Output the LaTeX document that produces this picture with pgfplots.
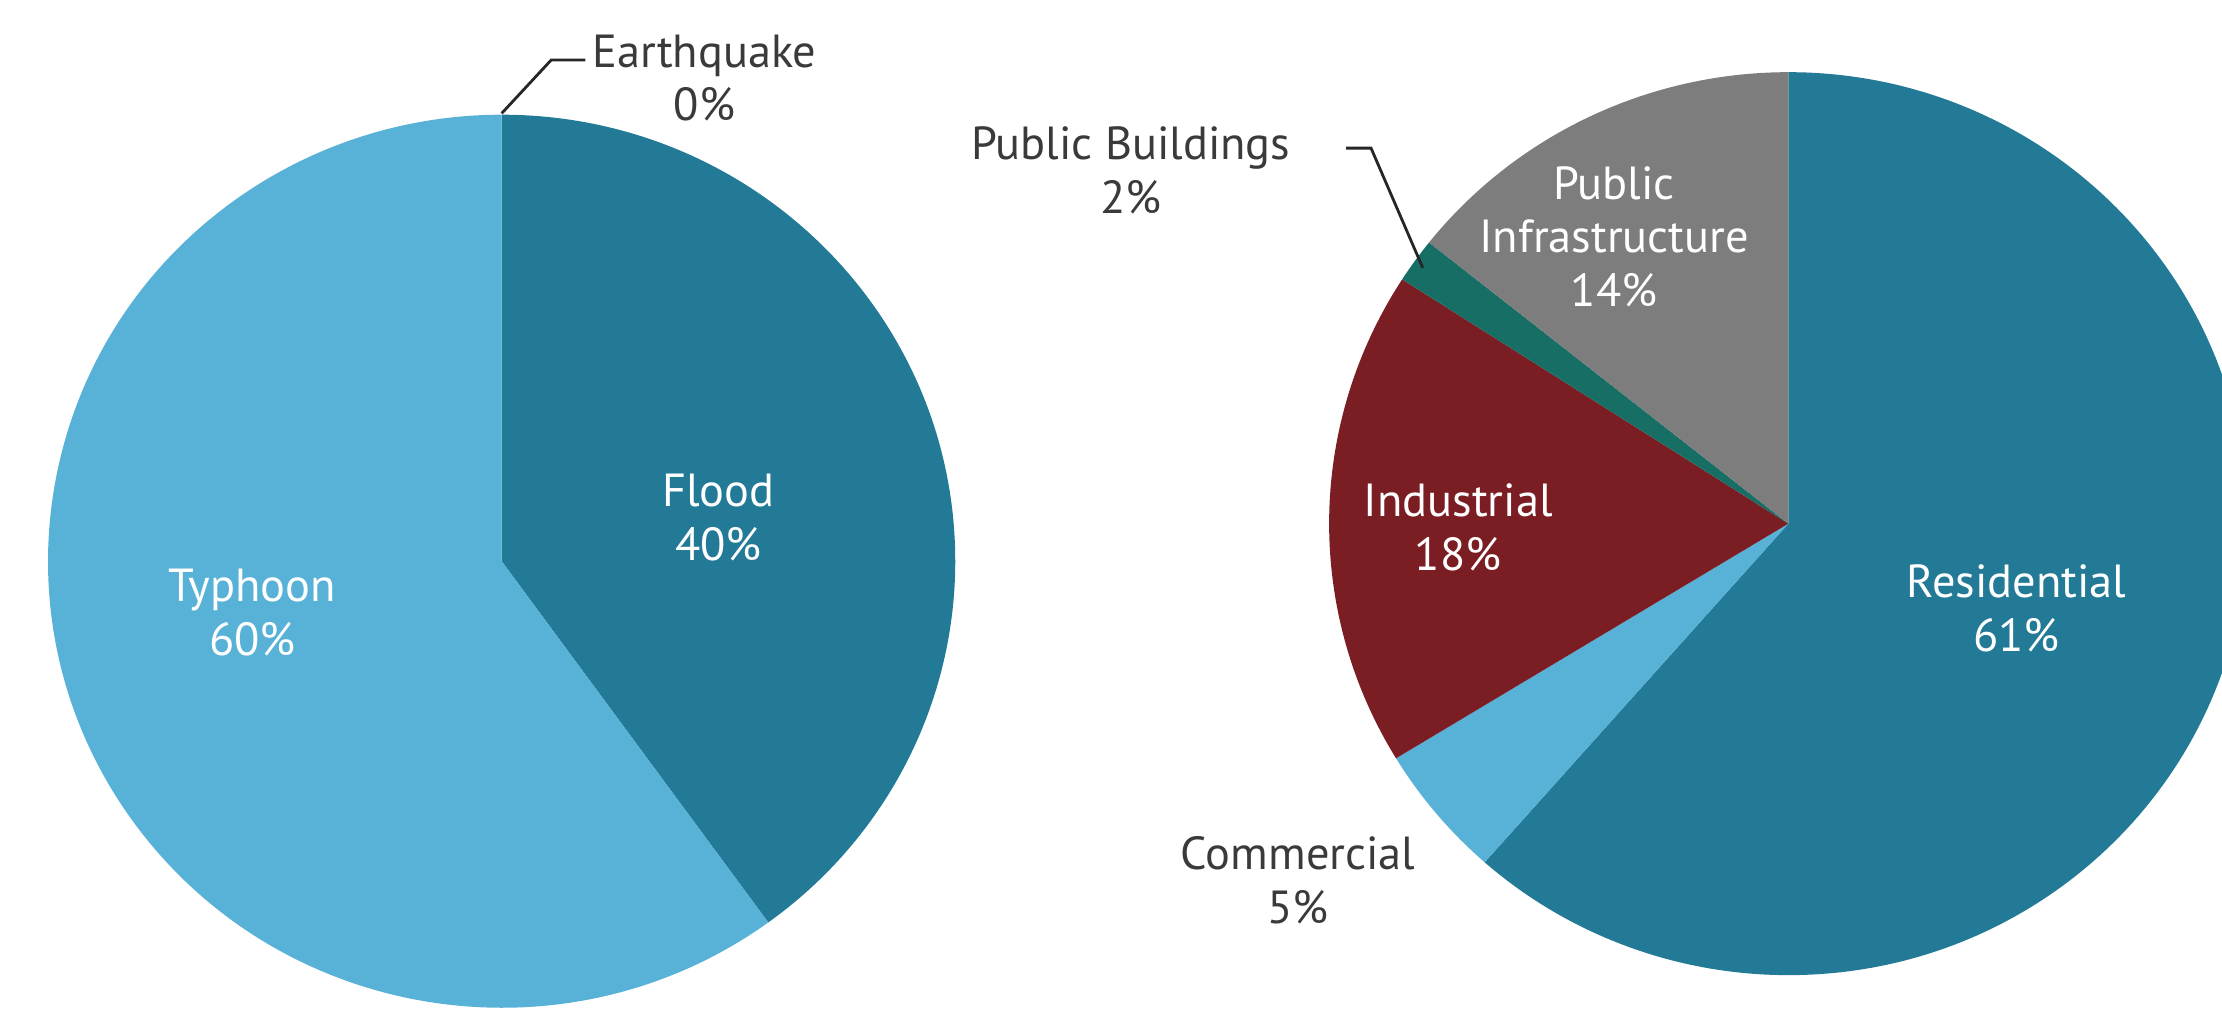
\documentclass[border=0pt]{standalone}
\usepackage{pgfplots}
\pgfplotsset{compat=1.18}
\usepackage{fontspec}
\setmainfont{PT Sans}
\definecolor{cdark}{HTML}{237A96}
\definecolor{clight}{HTML}{58B2D8}
\definecolor{cred}{HTML}{7A1E24}
\definecolor{cgreen}{HTML}{166E64}
\definecolor{cgrey}{HTML}{7D7D7D}
\definecolor{ctext}{HTML}{3A3A3A}
\def\pxu{0.0141709cm}
% slice: centre x, centre y, x radius, y radius, cumulative % from, cumulative % to, colour
\newcommand\slice[7]{%
  \fill[#7] (axis cs:#1,#2) -- ++({#3*\pxu*cos(90-3.6*#5)},{#4*\pxu*sin(90-3.6*#5)})
    arc[start angle={90-3.6*#5}, end angle={90-3.6*#6}, x radius={#3*\pxu}, y radius={#4*\pxu}] -- cycle;}
\begin{document}
\begin{tikzpicture}
\begin{axis}[name=ax, width=22.22cm, height=10.09cm, scale only axis, hide axis,
  xmin=0, xmax=1568, ymin=0, ymax=712, y dir=reverse, clip=true]
% left pie: Flood 40, Typhoon 60, Earthquake 0
\slice{354}{396}{320}{315}{0}{40}{cdark}
\slice{354}{396}{320}{315}{40}{100}{clight}
% right pie: Residential 61.5, Commercial 4.8, Industrial 17.8, Public Buildings 1.6, Public Infrastructure 14.3
\slice{1262}{369.5}{324}{318.5}{0}{61.5}{cdark}
\slice{1262}{369.5}{324}{318.5}{61.5}{66.3}{clight}
\slice{1262}{369.5}{324}{318.5}{66.3}{84.1}{cred}
\slice{1262}{369.5}{324}{318.5}{84.1}{85.7}{cgreen}
\slice{1262}{369.5}{324}{318.5}{85.7}{100}{cgrey}
% leader lines
\draw[line width=0.8pt, black!85] (axis cs:354,80) -- (axis cs:389,42.3) -- (axis cs:413,42.3);
\draw[line width=0.8pt, black!85] (axis cs:950,104.5) -- (axis cs:967.5,104.5) -- (axis cs:1004,189);
% labels
\tikzset{lab/.style={font=\fontsize{13.2}{15.3}\selectfont, align=center, inner sep=0pt}}
\node[lab, text=ctext] at (axis cs:497,55) {Earthquake\\0\%};
\node[lab, text=white] at (axis cs:507,365) {Flood\\40\%};
\node[lab, text=white] at (axis cs:178,432) {Typhoon\\60\%};
\node[lab, text=ctext] at (axis cs:798,120) {Public Buildings\\2\%};
\node[lab, text=white] at (axis cs:1139,167) {Public\\Infrastructure\\14\%};
\node[lab, text=white] at (axis cs:1029,372) {Industrial\\18\%};
\node[lab, text=white] at (axis cs:1423,429) {Residential\\61\%};
\node[lab, text=ctext] at (axis cs:916,621) {Commercial\\5\%};
\end{axis}
\pgfresetboundingbox
\useasboundingbox (ax.south west) rectangle (ax.north east);
\end{tikzpicture}
\end{document}
